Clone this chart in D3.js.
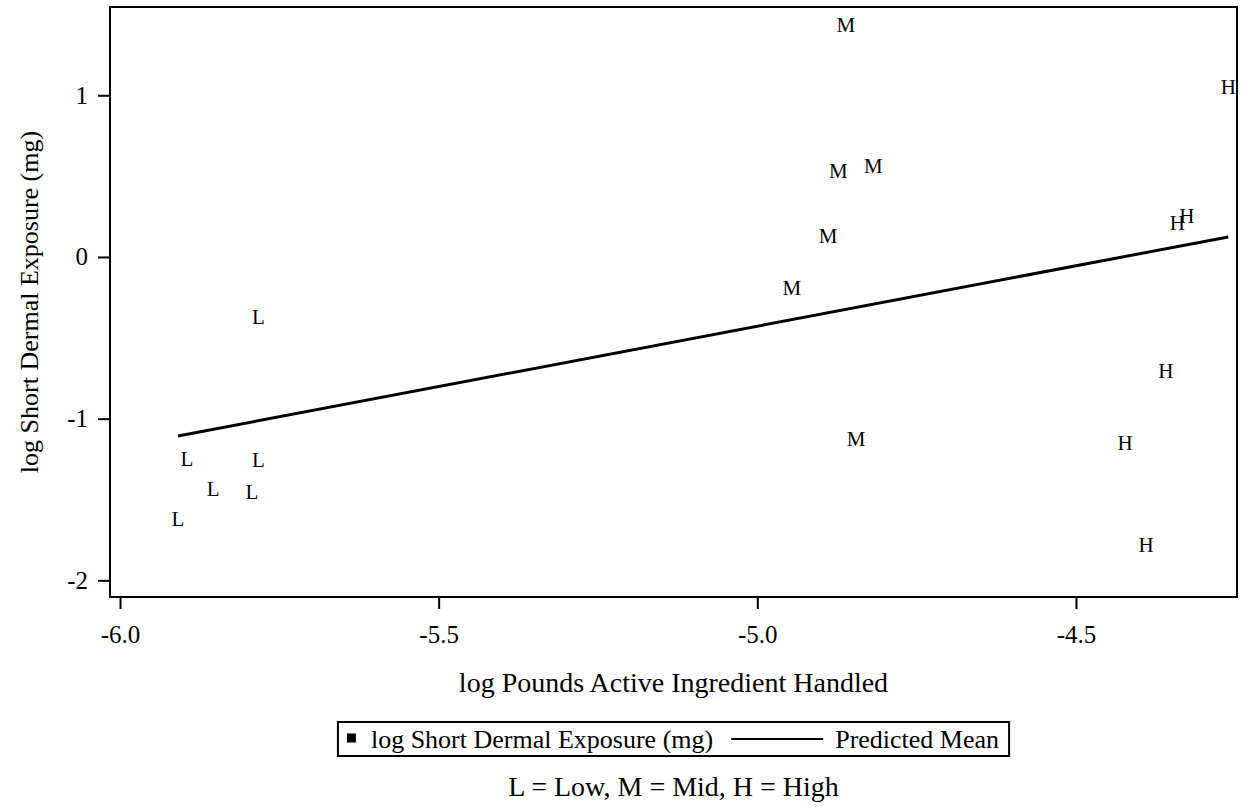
<!DOCTYPE html>
<html>
<head>
<meta charset="utf-8">
<script src="https://cdn.jsdelivr.net/npm/d3@7"></script>
<style>
  html, body { margin: 0; padding: 0; background: #fff; }
  svg { display: block; font-family: "Liberation Serif", "Times New Roman", serif; }
</style>
</head>
<body>
<div id="chart"></div>
<script>
// Observations: x = log pounds AI handled, y = log short dermal exposure, label = group code
const lowX  = [-5.783, -5.895, -5.783, -5.854, -5.793, -5.909];
const lowY  = [-0.371, -1.249, -1.255, -1.435, -1.453, -1.620];
const midX  = [-4.861, -4.873, -4.818, -4.889, -4.946, -4.845];
const midY  = [1.435, 0.532, 0.563, 0.130, -0.192, -1.126];
const highX = [-4.261, -4.341, -4.326, -4.359, -4.423, -4.390];
const highY = [1.051, 0.210, 0.254, -0.705, -1.150, -1.781];

// Predicted mean (regression line endpoints)
const predX = [-5.909, -4.261];
const predY = [-1.107, 0.124];

const xTicks = [-6.0, -5.5, -5.0, -4.5];
const yTicks = [-2, -1, 0, 1];

const groups = [
  { code: "L", xs: lowX, ys: lowY },
  { code: "M", xs: midX, ys: midY },
  { code: "H", xs: highX, ys: highY }
];

const W = 1243, H = 808;
const plot = { left: 110, right: 1237, top: 7, bottom: 597 };
const midPlot = (plot.left + plot.right) / 2;

const svg = d3.select("#chart").append("svg")
  .attr("width", W)
  .attr("height", H);

const x = d3.scaleLinear().domain([-6.0157, -4.2473]).range([plot.left, plot.right]);
const y = d3.scaleLinear().domain([-2.103, 1.546]).range([plot.bottom, plot.top]);

// Axes (plain hyphen for negatives, like the original)
svg.append("g")
  .attr("transform", `translate(0,${plot.bottom})`)
  .call(d3.axisBottom(x).tickValues(xTicks).tickFormat((d) => d.toFixed(1)).tickSize(12).tickPadding(16))
  .call((g) => g.select(".domain").remove())
  .call((g) => g.selectAll("line").attr("stroke", "#000").attr("stroke-width", 2))
  .call((g) => g.selectAll("text").attr("fill", "#000").attr("font-size", "25px")
    .attr("font-family", "Liberation Serif"));

svg.append("g")
  .attr("transform", `translate(${plot.left},0)`)
  .call(d3.axisLeft(y).tickValues(yTicks).tickFormat((d) => String(d)).tickSize(12).tickPadding(10))
  .call((g) => g.select(".domain").remove())
  .call((g) => g.selectAll("line").attr("stroke", "#000").attr("stroke-width", 2))
  .call((g) => g.selectAll("text").attr("fill", "#000").attr("font-size", "25px")
    .attr("font-family", "Liberation Serif"));

// Frame
svg.append("rect")
  .attr("x", plot.left).attr("y", plot.top)
  .attr("width", plot.right - plot.left).attr("height", plot.bottom - plot.top)
  .attr("fill", "none").attr("stroke", "#000").attr("stroke-width", 2);

// Predicted mean line
const pred = predX.map((v, i) => [v, predY[i]]);
svg.append("path")
  .datum(pred)
  .attr("fill", "none")
  .attr("stroke", "#000")
  .attr("stroke-width", 3)
  .attr("d", d3.line().x((d) => x(d[0])).y((d) => y(d[1])));

// Point labels
const pts = groups.flatMap((g) => g.xs.map((v, i) => ({ code: g.code, x: v, y: g.ys[i] })));
svg.selectAll(".pt")
  .data(pts)
  .join("text")
  .attr("class", "pt")
  .attr("x", (d) => x(d.x))
  .attr("y", (d) => y(d.y))
  .attr("dy", "0.33em")
  .attr("text-anchor", "middle")
  .attr("font-size", "21px")
  .attr("fill", "#000")
  .text((d) => d.code);

// Axis titles
svg.append("text")
  .attr("x", midPlot)
  .attr("y", 692)
  .attr("text-anchor", "middle")
  .attr("font-size", "28px")
  .text("log Pounds Active Ingredient Handled");

svg.append("text")
  .attr("transform", `translate(38,${(plot.top + plot.bottom) / 2}) rotate(-90)`)
  .attr("text-anchor", "middle")
  .attr("font-size", "26px")
  .text("log Short Dermal Exposure (mg)");

// Legend
const legY = 722, legH = 34;
const leg = svg.append("g");
const legText1 = leg.append("text")
  .attr("y", legY + legH / 2).attr("dy", "0.35em")
  .attr("font-size", "26px")
  .text("log Short Dermal Exposure (mg)");
const legText2 = leg.append("text")
  .attr("y", legY + legH / 2).attr("dy", "0.35em")
  .attr("font-size", "26px")
  .text("Predicted Mean");
const w1 = legText1.node().getComputedTextLength();
const w2 = legText2.node().getComputedTextLength();
const padL = 9, sq = 9, gap = 15, lineGap = 18, lineLen = 92, padR = 10;
const legW = padL + sq + gap + w1 + lineGap + lineLen + 12 + w2 + padR;
const legX = midPlot - legW / 2;

leg.insert("rect", "text")
  .attr("x", legX).attr("y", legY)
  .attr("width", legW).attr("height", legH)
  .attr("fill", "#fff").attr("stroke", "#000").attr("stroke-width", 2);
leg.append("rect")
  .attr("x", legX + padL).attr("y", legY + legH / 2 - sq / 2 - 1)
  .attr("width", sq).attr("height", sq).attr("fill", "#000");
legText1.attr("x", legX + padL + sq + gap);
const lx = legX + padL + sq + gap + w1 + lineGap;
leg.append("line")
  .attr("x1", lx).attr("x2", lx + lineLen)
  .attr("y1", legY + legH / 2).attr("y2", legY + legH / 2)
  .attr("stroke", "#000").attr("stroke-width", 2);
legText2.attr("x", lx + lineLen + 12);

// Footnote
svg.append("text")
  .attr("x", midPlot)
  .attr("y", 796)
  .attr("text-anchor", "middle")
  .attr("font-size", "28px")
  .text("L = Low, M = Mid, H = High");
</script>
</body>
</html>
